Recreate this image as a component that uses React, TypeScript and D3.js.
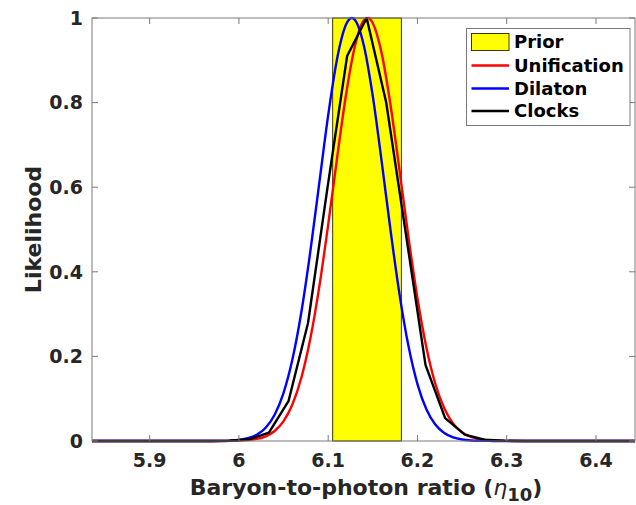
import React from "react";
import * as d3 from "d3";

const xTicks = [5.9, 6.0, 6.1, 6.2, 6.3, 6.4];
const yTicks = [0, 0.2, 0.4, 0.6, 0.8, 1];
const xDomain = [5.8354, 6.4437];
const priorRange = [6.105, 6.182];

const unifX = [5.8354, 5.98, 5.99, 6.0, 6.01, 6.02, 6.03, 6.04, 6.05, 6.06, 6.07, 6.08, 6.09, 6.1, 6.11, 6.12, 6.13, 6.14, 6.145, 6.15, 6.16, 6.17, 6.18, 6.19, 6.2, 6.21, 6.22, 6.23, 6.24, 6.25, 6.26, 6.27, 6.28, 6.29, 6.3, 6.31, 6.4437];
const unifY = [0, 0.0001, 0.00027, 0.00076, 0.002, 0.00487, 0.0111, 0.0236, 0.0469, 0.0869, 0.1501, 0.2421, 0.3643, 0.5115, 0.6701, 0.8192, 0.9344, 0.9945, 1.0, 0.9876, 0.9152, 0.7913, 0.6384, 0.4806, 0.3376, 0.2213, 0.1353, 0.0772, 0.0411, 0.0204, 0.0095, 0.0041, 0.0017, 0.0006, 0.0002, 0.0001, 0];

const dilX = [5.8354, 5.97, 5.98, 5.99, 6.0, 6.01, 6.02, 6.03, 6.04, 6.05, 6.06, 6.07, 6.08, 6.09, 6.1, 6.11, 6.12, 6.1265, 6.13, 6.14, 6.15, 6.16, 6.17, 6.18, 6.19, 6.2, 6.21, 6.22, 6.23, 6.24, 6.25, 6.26, 6.27, 6.28, 6.29, 6.4437];
const dilY = [0, 0.0001, 0.00035, 0.00099, 0.00263, 0.00648, 0.01485, 0.0315, 0.0622, 0.1139, 0.1937, 0.3057, 0.4481, 0.6098, 0.7705, 0.9039, 0.9844, 1.0, 0.9955, 0.9346, 0.8146, 0.6593, 0.4954, 0.3456, 0.2238, 0.1346, 0.0751, 0.0389, 0.0188, 0.0084, 0.0035, 0.0013, 0.0005, 0.0002, 0.0001, 0];

const clockX = [5.8354, 5.9679, 5.9898, 6.0117, 6.0336, 6.0555, 6.0774, 6.0993, 6.1212, 6.1431, 6.165, 6.187, 6.209, 6.231, 6.253, 6.275, 6.297, 6.319, 6.4437];
const clockY = [0, 0.0001, 0.0006, 0.004, 0.02, 0.094, 0.279, 0.6, 0.91, 1.0, 0.8, 0.49, 0.18, 0.054, 0.015, 0.003, 0.0005, 0.0001, 0];

const seriesNames = ["Unification", "Dilaton", "Clocks"];
const seriesColors = ["#ff0000", "#0000ff", "#000000"];

const W = 636, H = 505;
const left = 92, right = 635, top = 18, bottom = 441;
const FONT = "'DejaVu Sans', sans-serif";

export default function App() {
  const x = d3.scaleLinear().domain(xDomain).range([left, right]);
  const y = d3.scaleLinear().domain([0, 1]).range([bottom, top]);
  const line = d3.line<[number, number]>().curve(d3.curveLinear);
  const mk = (xs: number[], ys: number[]) =>
    line(xs.map((v, i) => [x(v), y(ys[i])] as [number, number])) || "";
  const smooth = d3.line<[number, number]>().curve(d3.curveMonotoneX);
  const mkS = (xs: number[], ys: number[]) =>
    smooth(xs.map((v, i) => [x(v), y(ys[i])] as [number, number])) || "";

  const paths = [mkS(unifX, unifY), mkS(dilX, dilY), mk(clockX, clockY)];
  const axisColor = "#7a7a7a";
  const textColor = "#262626";
  const tick = 6;

  const lg = { x: 466.5, y: 28.5, w: 163.5, h: 97 };
  const rowY = [42, 65.5, 88.5, 111];

  return (
    <svg width={W} height={H} style={{ position: "absolute", left: 0, top: 0, background: "#fff" }}>
      <rect x={0} y={0} width={W} height={H} fill="#fff" />
      <rect
        x={x(priorRange[0])}
        y={top}
        width={x(priorRange[1]) - x(priorRange[0])}
        height={bottom - top}
        fill="#ffff00"
        stroke="#3a3a00"
        strokeWidth={1}
      />
      {paths.map((p, i) => (
        <path key={i} d={p} fill="none" stroke={seriesColors[i]} strokeWidth={2.4} strokeLinejoin="round" />
      ))}
      <rect x={left} y={top} width={right - left} height={bottom - top} fill="none" stroke={axisColor} strokeWidth={1} />
      {xTicks.map((t) => (
        <g key={"x" + t}>
          <line x1={x(t)} x2={x(t)} y1={bottom} y2={bottom - tick} stroke={axisColor} />
          <line x1={x(t)} x2={x(t)} y1={top} y2={top + tick} stroke={axisColor} />
          <text x={x(t)} y={467} textAnchor="middle" fontFamily={FONT} fontWeight="bold" fontSize={19} fill={textColor}>
            {d3.format("~g")(t)}
          </text>
        </g>
      ))}
      {yTicks.map((t) => (
        <g key={"y" + t}>
          <line x1={left} x2={left + tick} y1={y(t)} y2={y(t)} stroke={axisColor} />
          <line x1={right} x2={right - tick} y1={y(t)} y2={y(t)} stroke={axisColor} />
          <text x={83} y={y(t)} dy="0.36em" textAnchor="end" fontFamily={FONT} fontWeight="bold" fontSize={19} fill={textColor}>
            {d3.format("~g")(t)}
          </text>
        </g>
      ))}
      <text
        x={366}
        y={495}
        textAnchor="middle"
        fontFamily={FONT}
        fontWeight="bold"
        fontSize={22}
        fill={textColor}
      >
        Baryon-to-photon ratio (
        <tspan fontStyle="italic" fontWeight="normal">η</tspan>
        <tspan dy={6} fontSize={18}>10</tspan>
        <tspan dy={-6}>)</tspan>
      </text>
      <text
        transform={`translate(41, ${(top + bottom) / 2}) rotate(-90)`}
        textAnchor="middle"
        fontFamily={FONT}
        fontWeight="bold"
        fontSize={22}
        fill={textColor}
      >
        Likelihood
      </text>
      <rect x={lg.x} y={lg.y} width={lg.w} height={lg.h} fill="#fff" stroke="#7a7a7a" strokeWidth={1} />
      <rect x={471.5} y={33.5} width={37.5} height={17} fill="#ffff00" stroke="#3a3a00" strokeWidth={1} />
      {seriesNames.map((n, i) => (
        <line key={n} x1={471.5} x2={509} y1={rowY[i + 1]} y2={rowY[i + 1]} stroke={seriesColors[i]} strokeWidth={2.4} />
      ))}
      {["Prior", ...seriesNames].map((n, i) => (
        <text key={n} x={514} y={rowY[i]} dy="0.36em" fontFamily={FONT} fontWeight="bold" fontSize={18} fill="#000">
          {n}
        </text>
      ))}
    </svg>
  );
}
